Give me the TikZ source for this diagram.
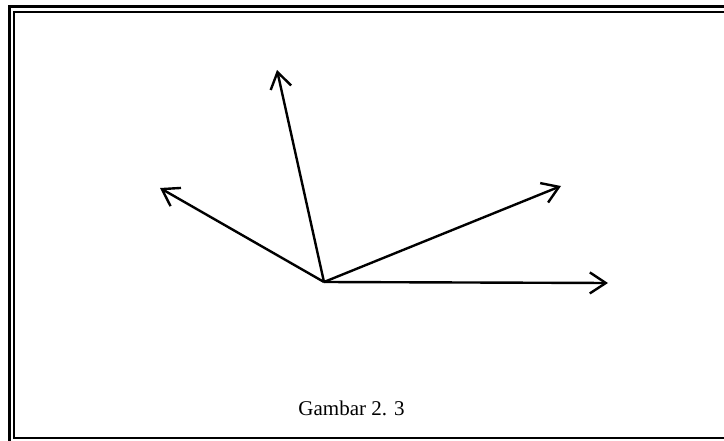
\documentclass[tikz,border=0pt]{standalone}
\usepackage{fontspec}
\setmainfont{Liberation Serif}
\usetikzlibrary{arrows.meta}

\begin{document}
\begin{tikzpicture}[
    x=1pt, y=-1pt,
    vector/.style={draw, line width=2.4pt, -{Straight Barb[length=16pt, width=21pt, line width=2.4pt]}},
    outerframe/.style={draw, line width=3.5pt},
    innerframe/.style={draw, line width=2.5pt},
    caption/.style={inner sep=0pt, font=\fontsize{21}{25}\selectfont}
]

\useasboundingbox (0, 0) rectangle (724, 441);

% double frame (right and bottom edges run past the page)
\draw[outerframe] (730, 6.5) -- (9.5, 6.5) -- (9.5, 450);
\draw[innerframe] (730, 12) -- (14, 12) -- (14, 438) -- (730, 438);

% vectors from a common origin
\coordinate (O) at (324, 282);
\coordinate (up) at (277, 70);
\coordinate (left) at (160, 188);
\coordinate (upright) at (561, 186);
\coordinate (right) at (608, 283);

\draw[vector] (O) -- (up);
\draw[vector] (O) -- (left);
\draw[vector] (O) -- (upright);
\draw[vector] (O) -- (right);

\node[caption, anchor=base] (title) at (351.5, 415) {Gambar 2. 3};

\end{tikzpicture}
\end{document}
